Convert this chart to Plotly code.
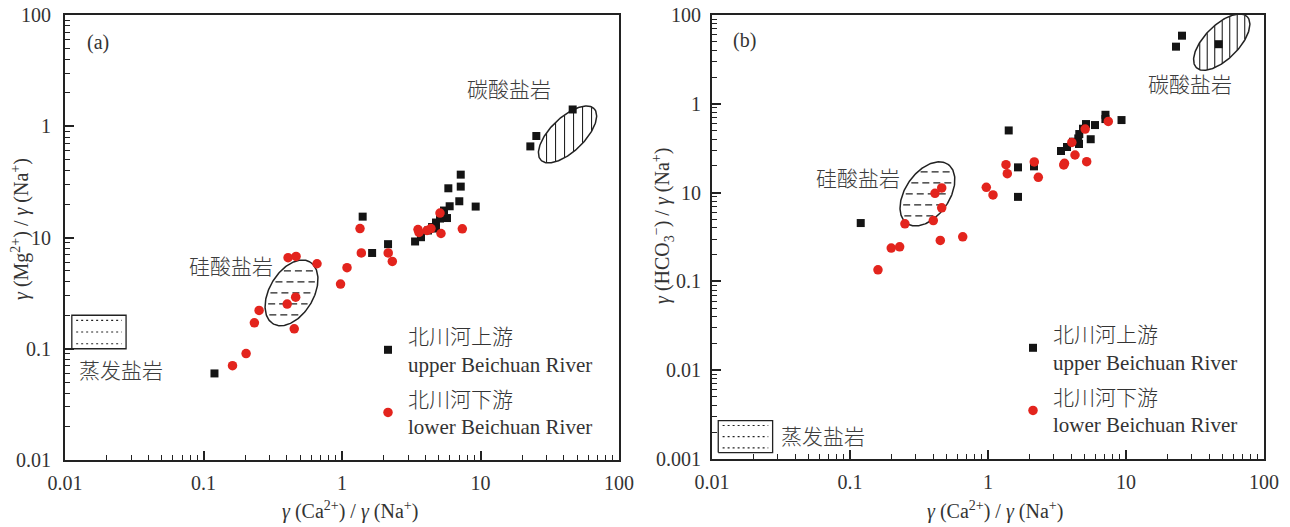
import math
import numpy as np
import plotly.graph_objects as go

W, H = 1290, 527          # window size
OFF = 8                   # page body margin
FW, FH = W - OFF, H - OFF  # figure size that fits the window

# ---------------- data ----------------
# panel (a): gamma(Ca2+)/gamma(Na+) vs gamma(Mg2+)/gamma(Na+)
a_upper_x = [0.12, 1.41, 1.65, 2.15, 3.37, 3.72, 4.18, 4.47, 4.77, 4.77, 5.10, 5.45, 5.73,
             5.99, 5.86, 7.03, 7.20, 7.20, 9.23, 22.9, 25.3, 46.3]
a_upper_y = [0.060, 1.54, 0.726, 0.871, 0.921, 1.006, 1.156, 1.242, 1.363, 1.204, 1.48, 1.747,
             1.496, 1.909, 2.769, 2.117, 2.867, 3.673, 1.897, 6.59, 8.17, 14.15]
a_lower_x = [0.162, 0.203, 0.233, 0.252, 0.408, 0.466, 0.402, 0.463, 0.452, 0.66, 0.976, 1.087,
             1.349, 1.379, 2.156, 2.308, 3.538, 3.597, 4.109, 4.39, 5.10, 5.186, 7.39]
a_lower_y = [0.0704, 0.0906, 0.171, 0.221, 0.658, 0.676, 0.252, 0.291, 0.151, 0.581, 0.381, 0.536,
             1.204, 0.726, 0.726, 0.609, 1.18, 1.109, 1.156, 1.204, 1.659, 1.086, 1.197]

# panel (b): gamma(Ca2+)/gamma(Na+) vs gamma(HCO3-)/gamma(Na+)
b_upper_x = [0.1196, 1.413, 1.650, 1.650, 2.154, 3.38, 3.736, 4.563, 4.51, 4.587, 5.13, 5.55,
             5.963, 7.10, 7.09, 9.28, 4.88, 4.13, 23.03, 25.45, 46.96]
b_upper_y = [0.454, 5.01, 1.924, 0.895, 1.975, 2.941, 3.262, 3.526, 4.075, 4.566, 5.914, 3.99,
             5.764, 7.52, 6.73, 6.56, 5.24, 3.74, 44.0, 58.5, 46.9]
b_lower_x = [0.1595, 0.199, 0.229, 0.250, 0.4015, 0.462, 0.413, 0.462, 0.451, 0.656, 0.972, 1.087,
             1.350, 1.380, 2.165, 2.315, 3.584, 3.54, 4.27, 5.19, 4.05, 5.06, 7.44]
b_lower_y = [0.135, 0.237, 0.245, 0.445, 0.4845, 0.673, 0.982, 1.129, 0.289, 0.318, 1.147, 0.942,
             2.064, 1.635, 2.212, 1.485, 2.135, 2.05, 2.652, 2.23, 3.675, 5.196, 6.325]

# tick labels (as printed in the original figure)
x_tick_vals = [0.01, 0.1, 1, 10, 100]
x_tick_text = ["0.01", "0.1", "1", "10", "100"]
a_ytick_vals = [0.01, 0.1, 1, 10, 100]
a_ytick_text = ["0.01", "0.1", "10", "1", "100"]
b_ytick_vals = [0.001, 0.01, 0.1, 1, 10, 100]
b_ytick_text = ["0.001", "0.01", "0.1", "10", "1", "100"]

CJK = "Noto Sans CJK SC"
CJK_SPAN = f"<span style='font-family:{CJK};font-weight:300;font-size:21px'>"
name_upper = f"{CJK_SPAN}北川河上游</span><br>upper Beichuan River"
name_lower = f"{CJK_SPAN}北川河下游</span><br>lower Beichuan River"

# end-member fields: centre (data units)
a_carb_c, a_sil_c = (42.5, 8.44), (0.432, 0.318)
b_carb_c, b_sil_c = (49.4, 49.5), (0.364, 0.967)
a_evap_x, a_evap_y = (0.0112, 0.0276), (0.100, 0.200)
b_evap_x, b_evap_y = (0.0111, 0.0275), (0.00118, 0.0027)

# ---------------- layout geometry (window pixels) ----------------
A_X = (65, 619); A_Y = (15, 460)      # pixel box of panel a
B_X = (712, 1264); B_Y = (15, 459)    # pixel box of panel b
ppx_a = (A_X[1] - A_X[0]) / 4.0; ppy_a = (A_Y[1] - A_Y[0]) / 4.0
ppx_b = (B_X[1] - B_X[0]) / 4.0; ppy_b = (B_Y[1] - B_Y[0]) / 5.0

LINE = "#222222"
TXT = "#333333"
CJK_TXT = "#3c3c3c"
SERIF = "Liberation Serif"


def px2paper_x(p):
    return (p - OFF) / FW


def px2paper_y(p):
    return 1 - (p - OFF) / FH


def ell_pts(c, a, b, th, ppx, ppy, n=181):
    t = np.linspace(0, 2 * np.pi, n)
    ct, st = math.cos(math.radians(th)), math.sin(math.radians(th))
    dx = a * np.cos(t) * ct - b * np.sin(t) * st
    dy = a * np.cos(t) * st + b * np.sin(t) * ct
    return 10 ** (math.log10(c[0]) + dx / ppx), 10 ** (math.log10(c[1]) + dy / ppy)


def chord(off, a, b, th, horizontal=True):
    c, s = math.cos(math.radians(th)), math.sin(math.radians(th))
    k = 1 / a ** 2 - 1 / b ** 2
    if horizontal:
        A = c * c / a ** 2 + s * s / b ** 2
        C = off * off * (s * s / a ** 2 + c * c / b ** 2) - 1
    else:
        A = s * s / a ** 2 + c * c / b ** 2
        C = off * off * (c * c / a ** 2 + s * s / b ** 2) - 1
    B = 2 * off * s * c * k
    d = B * B - 4 * A * C
    if d <= 0:
        return None
    r = math.sqrt(d)
    return (-B - r) / (2 * A), (-B + r) / (2 * A)


def hatch(c, a, b, th, ppx, ppy, offsets, horizontal, margin):
    xs, ys = [], []
    lx0, ly0 = math.log10(c[0]), math.log10(c[1])
    for off in offsets:
        ch = chord(off, a, b, th, horizontal)
        if ch is None:
            continue
        u1, u2 = ch[0] + margin, ch[1] - margin
        if u2 <= u1:
            continue
        if horizontal:
            xs += [10 ** (lx0 + u1 / ppx), 10 ** (lx0 + u2 / ppx), None]
            ys += [10 ** (ly0 + off / ppy)] * 2 + [None]
        else:
            xs += [10 ** (lx0 + off / ppx)] * 2 + [None]
            ys += [10 ** (ly0 + u1 / ppy), 10 ** (ly0 + u2 / ppy), None]
    return xs, ys


def box_traces(bx, by, xa, ya):
    out = [go.Scatter(x=[bx[0], bx[1], bx[1], bx[0], bx[0]], y=[by[0], by[0], by[1], by[1], by[0]],
                      mode="lines", line=dict(color=LINE, width=1.3), showlegend=False,
                      hoverinfo="skip", xaxis=xa, yaxis=ya)]
    lx0, lx1 = math.log10(bx[0]), math.log10(bx[1])
    ly0, ly1 = math.log10(by[0]), math.log10(by[1])
    xs, ys = [], []
    for f in (0.15, 0.5, 0.85):
        yv = 10 ** (ly1 - f * (ly1 - ly0))
        xs += [10 ** (lx0 + 0.08 * (lx1 - lx0)), 10 ** (lx0 + 0.92 * (lx1 - lx0)), None]
        ys += [yv, yv, None]
    out.append(go.Scatter(x=xs, y=ys, mode="lines", line=dict(color=LINE, width=1.2, dash="2px,3px"),
                          showlegend=False, hoverinfo="skip", xaxis=xa, yaxis=ya))
    return out


def region_traces(c, a, b, th, ppx, ppy, xa, ya, offsets, horizontal):
    ex, ey = ell_pts(c, a, b, th, ppx, ppy)
    hx, hy = hatch(c, a, b, th, ppx, ppy, offsets, horizontal, 3 if horizontal else 0.5)
    return [
        go.Scatter(x=hx, y=hy, mode="lines",
                   line=dict(color=LINE, width=1.1, dash="7px,4px" if horizontal else "solid"),
                   showlegend=False, hoverinfo="skip", xaxis=xa, yaxis=ya),
        go.Scatter(x=ex, y=ey, mode="lines", line=dict(color=LINE, width=1.5),
                   showlegend=False, hoverinfo="skip", xaxis=xa, yaxis=ya),
    ]


fig = go.Figure()
traces = []
traces += region_traces(a_sil_c, 36, 22, 59, ppx_a, ppy_a, "x", "y", [-22, -11, 0, 11, 22], True)
traces += region_traces(a_carb_c, 37, 17, 44, ppx_a, ppy_a, "x", "y", [-21, -12, -3, 6, 15, 24], False)
traces += box_traces(a_evap_x, a_evap_y, "x", "y")
traces += region_traces(b_sil_c, 36, 22, 55, ppx_b, ppy_b, "x2", "y2", [-22, -11, 0, 11, 22], True)
traces += region_traces(b_carb_c, 36, 17, 45, ppx_b, ppy_b, "x2", "y2",
                        [-22, -14.5, -7, 0.5, 8, 15.5, 23], False)
traces += box_traces(b_evap_x, b_evap_y, "x2", "y2")
for t in traces:
    fig.add_trace(t)

sq = dict(symbol="square", size=8, color="#141414")
ci = dict(symbol="circle", size=9.5, color="#e3241d")
fig.add_trace(go.Scatter(x=a_upper_x, y=a_upper_y, mode="markers", marker=sq, name=name_upper,
                         legend="legend", legendgroup="au", xaxis="x", yaxis="y"))
fig.add_trace(go.Scatter(x=a_lower_x, y=a_lower_y, mode="markers", marker=ci, name=name_lower,
                         legend="legend", legendgroup="al", xaxis="x", yaxis="y"))
fig.add_trace(go.Scatter(x=b_upper_x, y=b_upper_y, mode="markers", marker=sq, name=name_upper,
                         legend="legend2", legendgroup="bu", xaxis="x2", yaxis="y2"))
fig.add_trace(go.Scatter(x=b_lower_x, y=b_lower_y, mode="markers", marker=ci, name=name_lower,
                         legend="legend2", legendgroup="bl", xaxis="x2", yaxis="y2"))

minor_vals = [m * 10.0 ** e for e in range(-3, 2) for m in range(2, 10)]


def axis(domain, rng, tv, tt, standoff, anchor):
    return dict(type="log", domain=domain, range=rng, anchor=anchor, automargin=False,
                showgrid=False, zeroline=False,
                showline=True, linecolor=LINE, linewidth=2, mirror=True,
                ticks="inside", ticklen=9, tickwidth=1.5, tickcolor=LINE,
                tickmode="array", tickvals=tv, ticktext=tt, ticklabelstandoff=standoff,
                ticklabeloverflow="allow",
                tickfont=dict(family=SERIF, size=20, color=TXT),
                minor=dict(ticks="inside", ticklen=5, tickwidth=1.2, tickcolor=LINE,
                           tickmode="array", tickvals=minor_vals, showgrid=False))


legend_common = dict(xanchor="left", yanchor="top", bgcolor="rgba(0,0,0,0)",
                     font=dict(family=SERIF, size=21, color=TXT),
                     tracegroupgap=5, traceorder="grouped", itemclick=False)

fig.update_layout(
    width=FW, height=FH, margin=dict(l=0, r=0, t=0, b=0, autoexpand=False),
    paper_bgcolor="white", plot_bgcolor="white",
    xaxis=axis([px2paper_x(A_X[0]), px2paper_x(A_X[1])], [-2, 2], x_tick_vals, x_tick_text, 4, "y"),
    yaxis=axis([px2paper_y(A_Y[1]), px2paper_y(A_Y[0])], [-2, 2], a_ytick_vals, a_ytick_text, 8, "x"),
    xaxis2=axis([px2paper_x(B_X[0]), px2paper_x(B_X[1])], [-2, 2], x_tick_vals, x_tick_text, 4, "y2"),
    yaxis2=axis([px2paper_y(B_Y[1]), px2paper_y(B_Y[0])], [-3, 2], b_ytick_vals, b_ytick_text, 5, "x2"),
    legend=dict(x=px2paper_x(368), y=px2paper_y(316), **legend_common),
    legend2=dict(x=px2paper_x(1013), y=px2paper_y(314), **legend_common),
    hovermode=False,
)


def ann(text, px, py, size=21, family=CJK, angle=0, color=CJK_TXT, weight="normal"):
    return dict(text=text, x=px2paper_x(px), y=px2paper_y(py), xref="paper", yref="paper",
                showarrow=False, textangle=angle, xanchor="center", yanchor="middle",
                font=dict(family=family, size=size, color=color, weight=weight))


gam = "<i>γ</i>"
annotations = [
    ann("(a)", 98, 43, 20, SERIF, color=TXT),
    ann("碳酸盐岩", 509, 88, weight=300),
    ann("硅酸盐岩", 231, 265, weight=300),
    ann("蒸发盐岩", 121, 369, weight=300),
    ann("(b)", 744, 40, 20, SERIF, color=TXT),
    ann("碳酸盐岩", 1190, 83, weight=300),
    ann("硅酸盐岩", 858, 177, weight=300),
    ann("蒸发盐岩", 823, 435, weight=300),
    ann(f"{gam} (Ca<sup>2+</sup>) / {gam} (Na<sup>+</sup>)", 350, 510, 20, SERIF, color=TXT),
    ann(f"{gam} (Ca<sup>2+</sup>) / {gam} (Na<sup>+</sup>)", 995, 510, 20, SERIF, color=TXT),
    ann(f"{gam} (Mg<sup>2+</sup>) / {gam} (Na<sup>+</sup>)", 20, 229, 20, SERIF, -90, TXT),
    ann(f"{gam} (HCO<sub>3</sub><sup>−</sup>) / {gam} (Na<sup>+</sup>)", 663, 226, 20, SERIF, -90, TXT),
]
fig.update_layout(annotations=annotations)

fig.write_html("out.html")
